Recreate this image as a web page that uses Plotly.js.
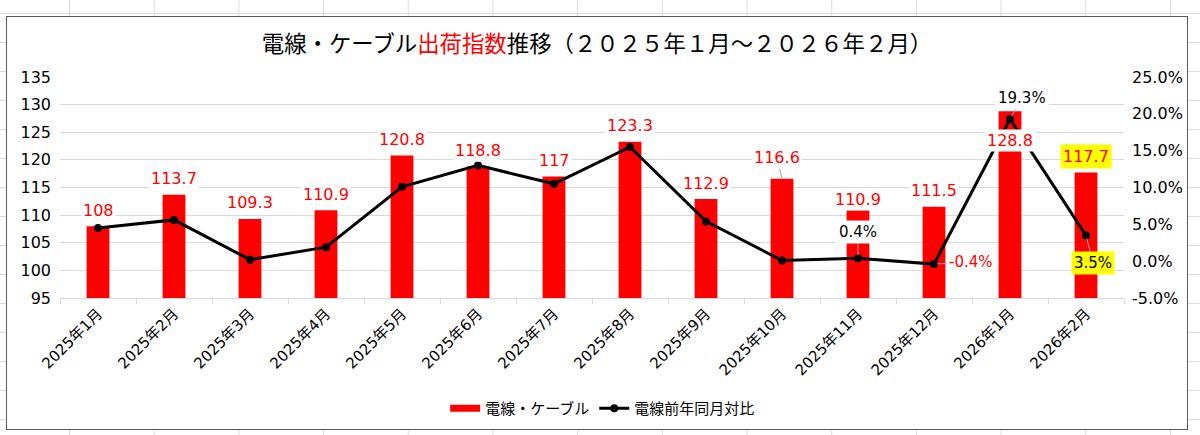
<!DOCTYPE html>
<html>
<head>
<meta charset="utf-8">
<script src="https://cdn.plot.ly/plotly-3.0.1.min.js"></script>
<style>
    html, body { margin: 0; padding: 0; }
    #sheet {
        position: relative;
        width: 1200px;
        height: 435px;
        background-color: #ffffff;
        background-image:
            linear-gradient(to right, #dcdcdc 1px, transparent 1px),
            linear-gradient(to bottom, #dcdcdc 1px, transparent 1px);
        background-size: 84.7px 29px;
        background-position: 69px 13px;
        overflow: hidden;
    }
    #chart {
        position: absolute;
        left: 6px;
        top: 16px;
        width: 1180px;
        height: 412px;
        border: 1px solid #595959;
        background: #ffffff;
    }
</style>
</head>
<body>
<div id="sheet"><div id="chart"></div></div>
<script>
    var months = ['2025年1月', '2025年2月', '2025年3月', '2025年4月', '2025年5月', '2025年6月', '2025年7月',
        '2025年8月', '2025年9月', '2025年10月', '2025年11月', '2025年12月', '2026年1月', '2026年2月'];
    var shipIndex = [108, 113.7, 109.3, 110.9, 120.8, 118.8, 117, 123.3, 112.9, 116.6, 110.9, 111.5, 128.8, 117.7];
    var yoyPct = [4.5, 5.6, 0.2, 1.9, 10.1, 13.0, 10.5, 15.5, 5.4, 0.1, 0.4, -0.4, 19.3, 3.5];
    var pctTicks = [-5, 0, 5, 10, 15, 20, 25];

    var numFont = "'DejaVu Sans', 'Noto Sans CJK JP', sans-serif";
    var jpFont = "'Noto Sans CJK JP', 'DejaVu Sans', sans-serif";

    function pctText(v) {
        // Excel style: plain hyphen for negatives, one decimal.
        return v.toFixed(1) + '%';
    }

    var bars = {
        type: 'bar',
        name: '電線・ケーブル',
        x: months,
        y: shipIndex,
        marker: { color: '#ff0000' },
        showlegend: false,
        hoverinfo: 'x+y'
    };

    // Legend stand-in so the bar key is a flat wide rectangle like Excel draws it.
    var barKey = {
        type: 'scatter',
        mode: 'lines',
        name: '電線・ケーブル',
        x: [null],
        y: [null],
        line: { color: '#ff0000', width: 7 },
        hoverinfo: 'skip'
    };

    var line = {
        type: 'scatter',
        mode: 'lines+markers',
        name: '電線前年同月対比',
        x: months,
        y: yoyPct,
        yaxis: 'y2',
        line: { color: '#000000', width: 3 },
        marker: { color: '#000000', size: 8 },
        hoverinfo: 'x+y'
    };

    // Bar value labels sit above the bars on a white box, a few are nudged like in the sheet.
    var annotations = [];
    for (var i = 0; i < months.length; i++) {
        var a = {
            x: months[i],
            y: shipIndex[i],
            xref: 'x',
            yref: 'y',
            text: String(shipIndex[i]),
            showarrow: false,
            yshift: 16,
            bgcolor: '#ffffff',
            borderpad: 1,
            font: { family: numFont, size: 16, color: '#ff0000' }
        };
        if (i == 9) {
            a.showarrow = true;
            a.arrowhead = 0;
            a.arrowwidth = 1;
            a.arrowcolor = '#a6a6a6';
            a.ax = -5;
            a.ay = -21;
            a.yshift = 0;
        } else if (i == 10) {
            a.yshift = 11;
        } else if (i == 12) {
            a.yshift = -29;
        } else if (i == 13) {
            a.yshift = 16;
            a.bgcolor = '#ffff00';
            a.borderpad = 2;
        }
        annotations.push(a);
    }

    // Only the last few months have a percentage label in the original.
    var pctLabels = {
        10: { ax: 0, ay: -26, bg: '#ffffff' },
        11: { ax: 37, ay: -2, bg: '#ffffff' },
        12: { ax: 12, ay: -21, bg: '#ffffff' },
        13: { ax: 7, ay: 28, bg: '#ffff00' }
    };
    for (var k in pctLabels) {
        var p = pctLabels[k];
        var v = yoyPct[k];
        annotations.push({
            x: months[k],
            y: v,
            xref: 'x',
            yref: 'y2',
            text: pctText(v),
            showarrow: true,
            arrowhead: 0,
            arrowwidth: 1,
            arrowcolor: '#a6a6a6',
            standoff: 3,
            ax: p.ax,
            ay: p.ay,
            bgcolor: p.bg,
            borderpad: 2,
            font: { family: numFont, size: 15, color: v < 0 ? '#ff0000' : '#000000' }
        });
    }

    var layout = {
        width: 1180,
        height: 412,
        paper_bgcolor: '#ffffff',
        plot_bgcolor: '#ffffff',
        // The legend sits far below the plot, don't let it squeeze the plot area.
        margin: { t: 60, r: 63, b: 131, l: 53, autoexpand: false },
        font: { family: numFont, size: 16, color: '#000000' },
        title: {
            text: '電線・ケーブル<span style="color:#ff0000">出荷指数</span>推移（２０２５年１月～２０２６年２月）',
            font: { family: jpFont, size: 22.4, color: '#000000' },
            x: 0.5,
            xanchor: 'center',
            yref: 'container',
            y: 0.935,
            yanchor: 'middle'
        },
        bargap: 0.7,
        xaxis: {
            type: 'category',
            // Scatter would pad the category range; keep the Excel edge-to-edge slots.
            range: [-0.5, months.length - 0.5],
            automargin: false,
            tickangle: -45,
            tickfont: { family: numFont, size: 15 },
            showgrid: false,
            showline: true,
            linecolor: '#d9d9d9',
            ticks: 'outside',
            tickson: 'boundaries',
            ticklen: 5,
            tickcolor: '#d9d9d9',
            fixedrange: true
        },
        yaxis: {
            automargin: false,
            range: [95, 135],
            dtick: 5,
            showgrid: true,
            gridcolor: '#d9d9d9',
            gridwidth: 1,
            zeroline: false,
            showline: false,
            ticks: '',
            ticklabelstandoff: 8,
            tickfont: { family: numFont, size: 16 },
            fixedrange: true
        },
        yaxis2: {
            automargin: false,
            overlaying: 'y',
            side: 'right',
            range: [-5, 25],
            tickvals: pctTicks,
            ticktext: pctTicks.map(pctText),
            showgrid: false,
            zeroline: false,
            showline: false,
            ticks: '',
            ticklabelstandoff: 7,
            tickfont: { family: numFont, size: 16 },
            fixedrange: true
        },
        showlegend: true,
        legend: {
            orientation: 'h',
            x: 0.51,
            xanchor: 'center',
            y: -0.5,
            yanchor: 'middle',
            font: { family: jpFont, size: 15 },
            traceorder: 'normal'
        },
        annotations: annotations
    };

    Plotly.newPlot('chart', [bars, barKey, line], layout, { displayModeBar: false, staticPlot: true });
</script>
</body>
</html>
